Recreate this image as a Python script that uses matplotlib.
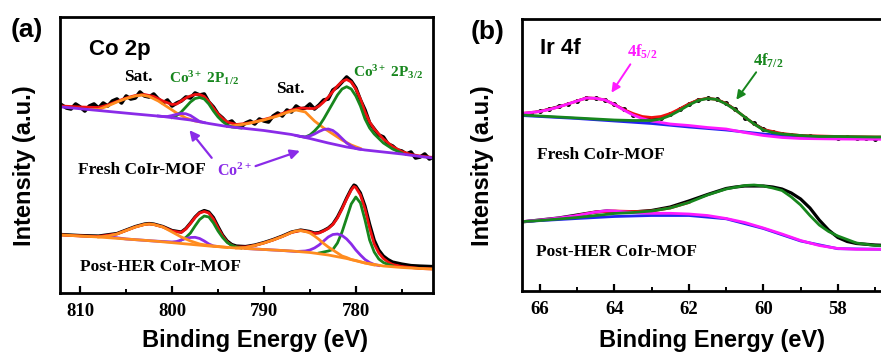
import numpy as np
import matplotlib
matplotlib.use("Agg")
from matplotlib import pyplot as plt
from matplotlib.ticker import MultipleLocator, FixedLocator

plt.rcParams['mathtext.fontset'] = 'custom'
plt.rcParams['mathtext.rm'] = 'Liberation Serif:bold'
plt.rcParams['mathtext.it'] = 'Liberation Serif:bold'
plt.rcParams['mathtext.bf'] = 'Liberation Serif:bold'

# ---------------- (a) Co 2p ----------------
# fresh CoIr-MOF
fr_bg_x = [812, 808, 804, 801, 798, 796, 794, 790, 787, 785, 783, 781, 779, 777, 775, 773, 771.6]
fr_bg_y = [186, 182.5, 179, 176.5, 173, 169.5, 166.5, 162.5, 158.5, 154.5, 150, 146, 143, 141, 139, 136.5, 135]

fr_co2a_x = [801.5, 801, 800.5, 800, 799.5, 799, 798.5, 798, 797.5, 797, 796.5]
fr_co2a_y = [177, 176.5, 176.5, 177.5, 178.7, 179.5, 179.2, 177.5, 174.5, 171.5, 170.4]
fr_co2b_x = [786.5, 786, 785.5, 785, 784.5, 784, 783.5, 783, 782.5, 782, 781.5, 781, 780.5, 780, 779.5]
fr_co2b_y = [157.5, 156.5, 156, 157, 159, 161.5, 163.5, 164, 162.5, 159, 154.5, 150, 147, 144.5, 143.7]

fr_sata_x = [809, 808, 807, 806, 805, 804, 803.3, 802.5, 801.5, 800.5, 799.5, 798.5, 797.5, 797]
fr_sata_y = [183.5, 183.5, 187, 191, 194.5, 197, 198, 196.5, 192, 186, 180, 175, 172, 171.2]
fr_satb_x = [794, 792, 790, 788.5, 787.5, 786.5, 785.5, 784.5, 783.5, 782.5, 781.5, 780.5, 779.5]
fr_satb_y = [166.5, 169, 173, 177, 180.5, 183, 181, 172, 165, 159, 153, 148, 144.5]

fr_co3a_x = [800, 799.5, 799, 798.5, 798, 797.5, 797, 796.5, 796, 795.5, 795, 794.5, 794, 793.5, 792.5]
fr_co3a_y = [175.5, 177.5, 181, 186, 191, 194.5, 195.5, 194, 189, 182, 176, 171.5, 168, 166, 165]
fr_co3b_x = [786, 785.5, 785, 784.5, 784, 783.5, 783, 782.5, 782, 781.5, 781, 780.5, 780, 779.5,
             779, 778.5, 778, 777.5, 777, 776, 775]
fr_co3b_y = [156.5, 156, 158, 162, 167, 174, 182, 190, 198, 204, 206.3, 204, 197, 187,
             174, 165, 159, 154.5, 150, 144, 140]

fr_env_x = [812, 810, 808, 807, 806, 805, 804, 803, 802, 801, 800, 799.5, 799, 798.5, 798, 797.5, 797,
            796.5, 796, 795.5, 795, 794.5, 794, 793, 792, 791, 790, 789, 788, 787, 786, 785, 784.5,
            784, 783.5, 783, 782.5, 782, 781.5, 781, 780.5, 780, 779.5, 779, 778.5, 778, 777.5,
            777, 776, 775, 774, 773, 771.6]
fr_env_y = [187, 186, 185.5, 188, 191.5, 195, 197.5, 198.5, 196.5, 192, 188.5, 189, 192, 195, 197, 198.5, 198.5,
            196.5, 191.5, 185, 179, 174.5, 171, 168.5, 169.5, 171, 173.5, 176, 179.5, 183, 185, 184.5, 184.5,
            187, 191, 196, 201.5, 207, 211.5, 213.5, 211, 204, 194, 181, 171, 164, 159,
            154, 146.5, 141.5, 138.5, 137, 135.5]

fr_raw_x = np.arange(812, 771.4, -0.5)
fr_raw_y = [188, 185, 184, 189, 186, 182, 187, 189, 185, 190,
            187, 192, 194, 190, 197, 194, 195, 201, 197, 196,
            199, 194, 190, 193, 187, 190, 192, 196, 195, 200,
            198, 199, 191, 186, 179, 175, 170, 172, 167, 166,
            170, 172, 169, 174, 172, 171, 177, 180, 177, 183,
            181, 187, 184, 185, 189, 184, 188, 193, 194, 203,
            206, 211, 216, 212, 205, 193, 183, 170, 164, 158,
            156, 149, 147, 143, 142, 139, 141, 135, 136, 139,
            134, 136]

# post-HER CoIr-MOF
po_bg_x = [812, 808, 805, 802, 799, 796, 793, 790, 787, 785, 783, 781, 779, 777, 775, 773, 771.6]
po_bg_y = [58, 56, 54, 52, 49.5, 47, 45, 43.5, 42, 40.5, 38, 34.5, 30, 27, 25.5, 24.5, 24]

po_co2a_x = [807, 805, 802, 800, 799.5, 799, 798.5, 798, 797.5, 797, 796.5, 796, 795.5, 795]
po_co2a_y = [56.5, 54, 52, 51, 51.5, 53, 54.5, 55.5, 55.7, 54.5, 52, 49, 47, 46.5]
po_co2b_x = [792, 790, 788, 786.5, 785.5, 785, 784.5, 784, 783.5, 783, 782.5, 782, 781.5, 781,
             780.5, 780, 779.5, 779, 778.5, 778, 777.5]
po_co2b_y = [44.5, 43.5, 42.5, 41.5, 42, 43, 45, 48, 52, 56, 58.5, 59, 57.5, 54,
             49, 43, 38, 33.5, 30.5, 28.5, 27.5]

po_sata_x = [808, 807, 806, 805, 804, 803, 802.5, 802, 801, 800, 799, 798, 797, 796, 795, 794]
po_sata_y = [56, 57, 59, 62.5, 66, 68.5, 69, 68.5, 66, 61, 56, 52, 49, 47.5, 46.5, 45.5]
po_satb_x = [793, 792, 791, 790, 789, 788, 787, 786.5, 786, 785.5, 785, 784.5, 784, 783.5, 783,
             782.5, 782, 781.5, 781, 780.5, 780, 779, 778]
po_satb_y = [45, 45.5, 47.5, 50, 53, 56.5, 60.5, 62, 62.3, 61.5, 60, 57, 53.5, 49.5, 46,
             43, 40, 37, 35.5, 33.5, 32.5, 30, 28]

po_co3a_x = [799, 798.5, 798, 797.5, 797, 796.5, 796, 795.5, 795, 794.5, 794, 793.5, 793, 792.5]
po_co3a_y = [53, 55.5, 60, 67, 73.5, 77, 76, 70, 62, 55.5, 50.5, 47.5, 46, 45]
po_co3b_x = [784, 783.5, 783, 782.5, 782, 781.5, 781, 780.5, 780, 779.5, 779, 778.5, 778, 777.5,
             777, 776.5, 776]
po_co3b_y = [40, 41, 42, 43.5, 50, 61, 75, 89, 96, 90, 73, 53, 41, 34, 30.5, 28.5, 27]

po_env_x = [812, 810, 808, 806, 805, 804, 803, 802.5, 802, 801, 800, 799, 798.5, 798, 797.5, 797,
            796.5, 796, 795.5, 795, 794.5, 794, 793.5, 793, 792, 791, 790, 789, 788, 787, 786, 785,
            784.5, 784, 783.5, 783, 782.5, 782, 781.5, 781, 780.5, 780.2, 780, 779.5, 779, 778.5,
            778, 777.5, 777, 776.5, 776, 775, 774, 773, 771.6]
po_env_y = [58, 57, 56.5, 59, 62.5, 66, 68.5, 69, 68.5, 66, 62, 60.5, 64, 69.5, 75.5, 80,
            81.5, 80, 74, 65, 57, 51, 47.5, 46, 46, 47.5, 50, 53, 56.5, 60.5, 62.5, 61,
            59.5, 60, 62, 64.5, 68.5, 75, 84, 94, 103, 106.5, 105.5, 98, 84, 65,
            49, 40, 34.5, 31, 28.5, 26.5, 25.5, 24.5, 24]
po_raw_y = [58.5, 57.5, 57, 59.5, 63, 66.5, 69, 69.5, 69, 66.5, 62.5, 61, 64.5, 70, 76, 80.5,
            82.5, 81, 75.5, 66.5, 58, 52, 48.5, 47, 46.5, 48, 50.5, 53.5, 57, 61, 63, 61.5,
            60, 60.5, 62.5, 65, 69, 76, 85, 95, 104, 108, 107, 100, 87, 69,
            53, 43, 37, 33.5, 31, 29, 27.5, 27, 26.5]

# ---------------- (b) Ir 4f ----------------
fb_bg_x = [66.5, 65, 64, 63, 62, 61, 60, 59, 58, 56.3]
fb_bg_y = [175.5, 172.5, 170, 167.5, 164, 161, 157, 154, 153, 152.5]
fb_f52_x = [66.5, 66.25, 66, 65.75, 65.5, 65.25, 65, 64.75, 64.5, 64.25, 64, 63.75, 63.5, 63.25,
            63, 62.5, 62, 61.5, 61, 60.5, 60, 59.5, 59, 58, 57, 56.3]
fb_f52_y = [177.5, 178.5, 179.5, 181.5, 184, 187, 190, 193, 192.7, 191, 186.5, 181, 176, 172.5,
            170, 167, 165.5, 163.5, 162, 158.5, 155.5, 153.5, 152.5, 152, 151.7, 151.7]
fb_f72_x = [66.5, 66, 65.5, 65, 64.5, 64, 63.5, 63, 62.75, 62.5, 62.25, 62, 61.75, 61.5, 61.25,
            61, 60.75, 60.5, 60.25, 60, 59.75, 59.5, 59, 58.5, 58, 57, 56.3]
fb_f72_y = [176, 175, 174, 173, 172, 171, 170.5, 170.5, 172, 175.5, 180.5, 186, 190.5, 192.5, 191.5,
            187, 181, 174, 167, 161, 158.5, 157, 155.5, 154.5, 154.5, 154, 154]
fb_env_x = [66.5, 66, 65.5, 65, 64.75, 64.5, 64.25, 64, 63.75, 63.5, 63.25, 63, 62.75, 62.5, 62.25,
            62, 61.75, 61.5, 61.25, 61, 60.75, 60.5, 60.25, 60, 59.5, 59, 58, 57, 56.3]
fb_env_y = [177.5, 179.5, 184, 190, 193, 192.7, 191, 186.5, 181.5, 177.5, 174.5, 173.5, 174.5, 177.5, 182,
            187, 191, 192.7, 191.5, 187.5, 181, 174, 167, 161.5, 157.5, 155.5, 154.5, 154, 154]
fb_raw_x = np.arange(66.5, 56.7, -0.25)
fb_raw_y = [177, 178.5, 180, 182.5, 185, 187, 190.5, 193.5, 193, 191,
            187, 182, 176.5, 173, 172, 173, 177, 182.5, 187.5, 191.5,
            193, 192, 188, 182, 173.5, 168, 162.5, 159, 157, 156,
            155.5, 155, 154, 154.5, 153.5, 154, 153, 153.5, 152.5, 153]

pb_bg_x = [66.5, 65, 64, 63, 62, 61, 60, 59, 58, 56.3]
pb_bg_y = [69.3, 72.5, 74.5, 75.5, 75.5, 72.2, 62.5, 50, 42.3, 41.5]
pb_f52_x = [66.5, 66, 65.5, 65, 64.5, 64.2, 64, 63.5, 63, 62.5, 62, 61.5, 61, 60.5, 60, 59.5,
            59, 58.5, 58, 57.5, 57, 56.3]
pb_f52_y = [69.3, 71, 73, 75.5, 79, 80.3, 80, 78.5, 77.7, 77.7, 77, 75.5, 72.5, 68.5, 63, 57,
            50.5, 45.5, 42.5, 41.7, 41.7, 41.7]
pb_f72_x = [66.5, 66, 65.5, 65, 64.5, 64, 63.5, 63, 62.5, 62, 61.5, 61, 60.5, 60.25, 60, 59.75,
            59.5, 59.25, 59, 58.75, 58.5, 58.25, 58, 57.75, 57.5, 57, 56.3]
pb_f72_y = [69.3, 70.5, 72, 73.5, 75.5, 77.5, 78.5, 80, 83, 88.5, 96, 102, 105.5, 106, 105, 103,
            100.5, 94, 86, 75.5, 66, 59.5, 55, 51.5, 48, 45.5, 44.5]
pb_env_x = [65, 64.5, 64, 63.5, 63, 62.5, 62]
pb_env_y = [75.5, 79, 80, 79.5, 80, 83, 88.5]
pb_raw_x = [66.5, 66, 65.5, 65, 64.5, 64.2, 64, 63.5, 63, 62.5, 62, 61.5, 61, 60.75, 60.5, 60.25,
            60, 59.75, 59.5, 59.25, 59, 58.75, 58.5, 58.25, 58, 57.75, 57.5, 57, 56.3]
pb_raw_y = [69, 71, 73, 76, 79, 80, 79.5, 79, 80.5, 84, 90, 96.5, 102.5, 104, 105, 105,
            105, 104, 102, 98, 92, 83, 71, 61, 53.5, 49.5, 47.5, 46, 45]

b_ticks = [66, 64, 62, 60, 58]

# colours
BLK = '#000000'
RED = '#f01010'
GRN = '#17861d'
ORG = '#ff8c1f'
PUR = '#8a2be8'
MAG = '#ff1aff'
BLU = '#2323ee'

serif = 'Liberation Serif'
sans = 'Liberation Sans'
lw = 2.0

fig = plt.figure(figsize=(8.81, 3.54), dpi=100)
ax1 = fig.add_axes([60/881, 61/354, 373/881, 276/354])
# panel b runs past the right edge of the picture
ax2 = fig.add_axes([522/881, 63/354, 378/881, 272/354])

# ---- panel a ----
ax1.plot(fr_raw_x, fr_raw_y, color=BLK, lw=2.6)
ax1.plot(fr_env_x, fr_env_y, color=RED, lw=lw)
ax1.plot(fr_sata_x, fr_sata_y, color=ORG, lw=lw)
ax1.plot(fr_satb_x, fr_satb_y, color=ORG, lw=lw)
ax1.plot(fr_co3a_x, fr_co3a_y, color=GRN, lw=lw)
ax1.plot(fr_co3b_x, fr_co3b_y, color=GRN, lw=lw)
ax1.plot(fr_bg_x, fr_bg_y, color=PUR, lw=lw)
ax1.plot(fr_co2a_x, fr_co2a_y, color=PUR, lw=lw)
ax1.plot(fr_co2b_x, fr_co2b_y, color=PUR, lw=lw)

ax1.plot(po_env_x, po_raw_y, color=BLK, lw=2.3)
ax1.plot(po_env_x, po_env_y, color=RED, lw=lw)
ax1.plot(po_co3a_x, po_co3a_y, color=GRN, lw=lw)
ax1.plot(po_co3b_x, po_co3b_y, color=GRN, lw=lw)
ax1.plot(po_co2a_x, po_co2a_y, color=PUR, lw=lw)
ax1.plot(po_co2b_x, po_co2b_y, color=PUR, lw=lw)
ax1.plot(po_bg_x, po_bg_y, color=ORG, lw=lw)
ax1.plot(po_sata_x, po_sata_y, color=ORG, lw=lw)
ax1.plot(po_satb_x, po_satb_y, color=ORG, lw=lw)

ax1.set_xlim(812.2, 771.6)
ax1.set_ylim(0, 276)
ax1.xaxis.set_major_locator(MultipleLocator(10))
ax1.xaxis.set_minor_locator(MultipleLocator(5))

ax1.text(805.65, 243, 'Co 2p', family=sans, weight='bold', fontsize=16, ha='center', va='center')
ax1.text(803.7, 216, 'Sat.', family=serif, weight='bold', fontsize=12.5, ha='center', va='center')
ax1.text(787.1, 204, 'Sat.', family=serif, weight='bold', fontsize=12.5, ha='center', va='center')
ax1.text(796.5, 215, r'Co$^{3+}$ 2P$_{1/2}$', family=serif, weight='bold', fontsize=11,
         color=GRN, ha='center', va='center')
ax1.text(776.5, 221, r'Co$^{3+}$ 2P$_{3/2}$', family=serif, weight='bold', fontsize=11,
         color=GRN, ha='center', va='center')
ax1.text(803.3, 123, 'Fresh CoIr-MOF', family=serif, weight='bold', fontsize=12.5, ha='center', va='center')
ax1.text(793.2, 122, r'Co$^{2+}$', family=serif, weight='bold', fontsize=11.5, color=PUR,
         ha='center', va='center')
ax1.text(801.3, 26, 'Post-HER CoIr-MOF', family=serif, weight='bold', fontsize=12.5, ha='center', va='center')
ax1.annotate('', xy=(798.3, 165), xytext=(795.5, 133),
             arrowprops=dict(arrowstyle='-|>', color=PUR, lw=1.6, mutation_scale=14))
ax1.annotate('', xy=(785.8, 143), xytext=(791.2, 126),
             arrowprops=dict(arrowstyle='-|>', color=PUR, lw=1.6, mutation_scale=14))

# ---- panel b ----
ax2.plot(fb_raw_x, fb_raw_y, color=BLK, lw=1.2, marker='o', ms=2.5)
ax2.plot(fb_bg_x, fb_bg_y, color=BLU, lw=lw)
ax2.plot(fb_env_x, fb_env_y, color=RED, lw=lw)
ax2.plot(fb_f52_x, fb_f52_y, color=MAG, lw=lw)
ax2.plot(fb_f72_x, fb_f72_y, color=GRN, lw=lw)

ax2.plot(pb_raw_x, pb_raw_y, color=BLK, lw=2.3)
ax2.plot(pb_bg_x, pb_bg_y, color=BLU, lw=lw)
ax2.plot(pb_env_x, pb_env_y, color=RED, lw=lw)
ax2.plot(pb_f52_x, pb_f52_y, color=MAG, lw=lw)
ax2.plot(pb_f72_x, pb_f72_y, color=GRN, lw=lw)

ax2.set_xlim(66.48, 66.48 - 378/37.25)
ax2.set_ylim(0, 272)
ax2.xaxis.set_major_locator(FixedLocator(b_ticks))
ax2.xaxis.set_minor_locator(FixedLocator([65, 63, 61, 59, 57]))

ax2.text(65.46, 243, 'Ir 4f', family=sans, weight='bold', fontsize=16, ha='center', va='center')
ax2.text(63.26, 239, r'4f$_{5/2}$', family=serif, weight='bold', fontsize=12, color=MAG,
         ha='center', va='center')
ax2.text(59.88, 230, r'4f$_{7/2}$', family=serif, weight='bold', fontsize=12, color=GRN,
         ha='center', va='center')
ax2.annotate('', xy=(64.12, 196), xytext=(63.53, 229),
             arrowprops=dict(arrowstyle='-|>', color=MAG, lw=1.4, mutation_scale=13))
ax2.annotate('', xy=(60.77, 189), xytext=(60.15, 221),
             arrowprops=dict(arrowstyle='-|>', color=GRN, lw=1.4, mutation_scale=13))
ax2.text(64.36, 136, 'Fresh CoIr-MOF', family=serif, weight='bold', fontsize=12.5, ha='center', va='center')
ax2.text(63.93, 39, 'Post-HER CoIr-MOF', family=serif, weight='bold', fontsize=12.5, ha='center', va='center')

for ax in (ax1, ax2):
    for sp in ax.spines.values():
        sp.set_linewidth(2.0)
    ax.set_yticks([])
    ax.tick_params(axis='x', which='major', direction='in', length=5, width=1.6,
                   top=False, pad=7)
    ax.tick_params(axis='x', which='minor', direction='in', length=3, width=1.4, top=False)
    for lab in ax.get_xticklabels():
        lab.set_family(serif)
        lab.set_weight('bold')
        lab.set_fontsize(13.5)

fig.text(27/881, 1 - 30/354, '(a)', family=sans, weight='bold', fontsize=19, ha='center', va='center')
fig.text(488/881, 1 - 32/354, '(b)', family=sans, weight='bold', fontsize=19, ha='center', va='center')
fig.text(25/881, 1 - 166/354, 'Intensity (a.u.)', family=sans, weight='bold', fontsize=17,
         rotation=90, ha='center', va='center')
fig.text(482/881, 1 - 166/354, 'Intensity (a.u.)', family=sans, weight='bold', fontsize=17,
         rotation=90, ha='center', va='center')
fig.text(255/881, 1 - 340/354, 'Binding Energy (eV)', family=sans, weight='bold', fontsize=17,
         ha='center', va='center')
fig.text(712/881, 1 - 341/354, 'Binding Energy (eV)', family=sans, weight='bold', fontsize=17,
         ha='center', va='center')

fig.savefig('out.png', dpi=100)
